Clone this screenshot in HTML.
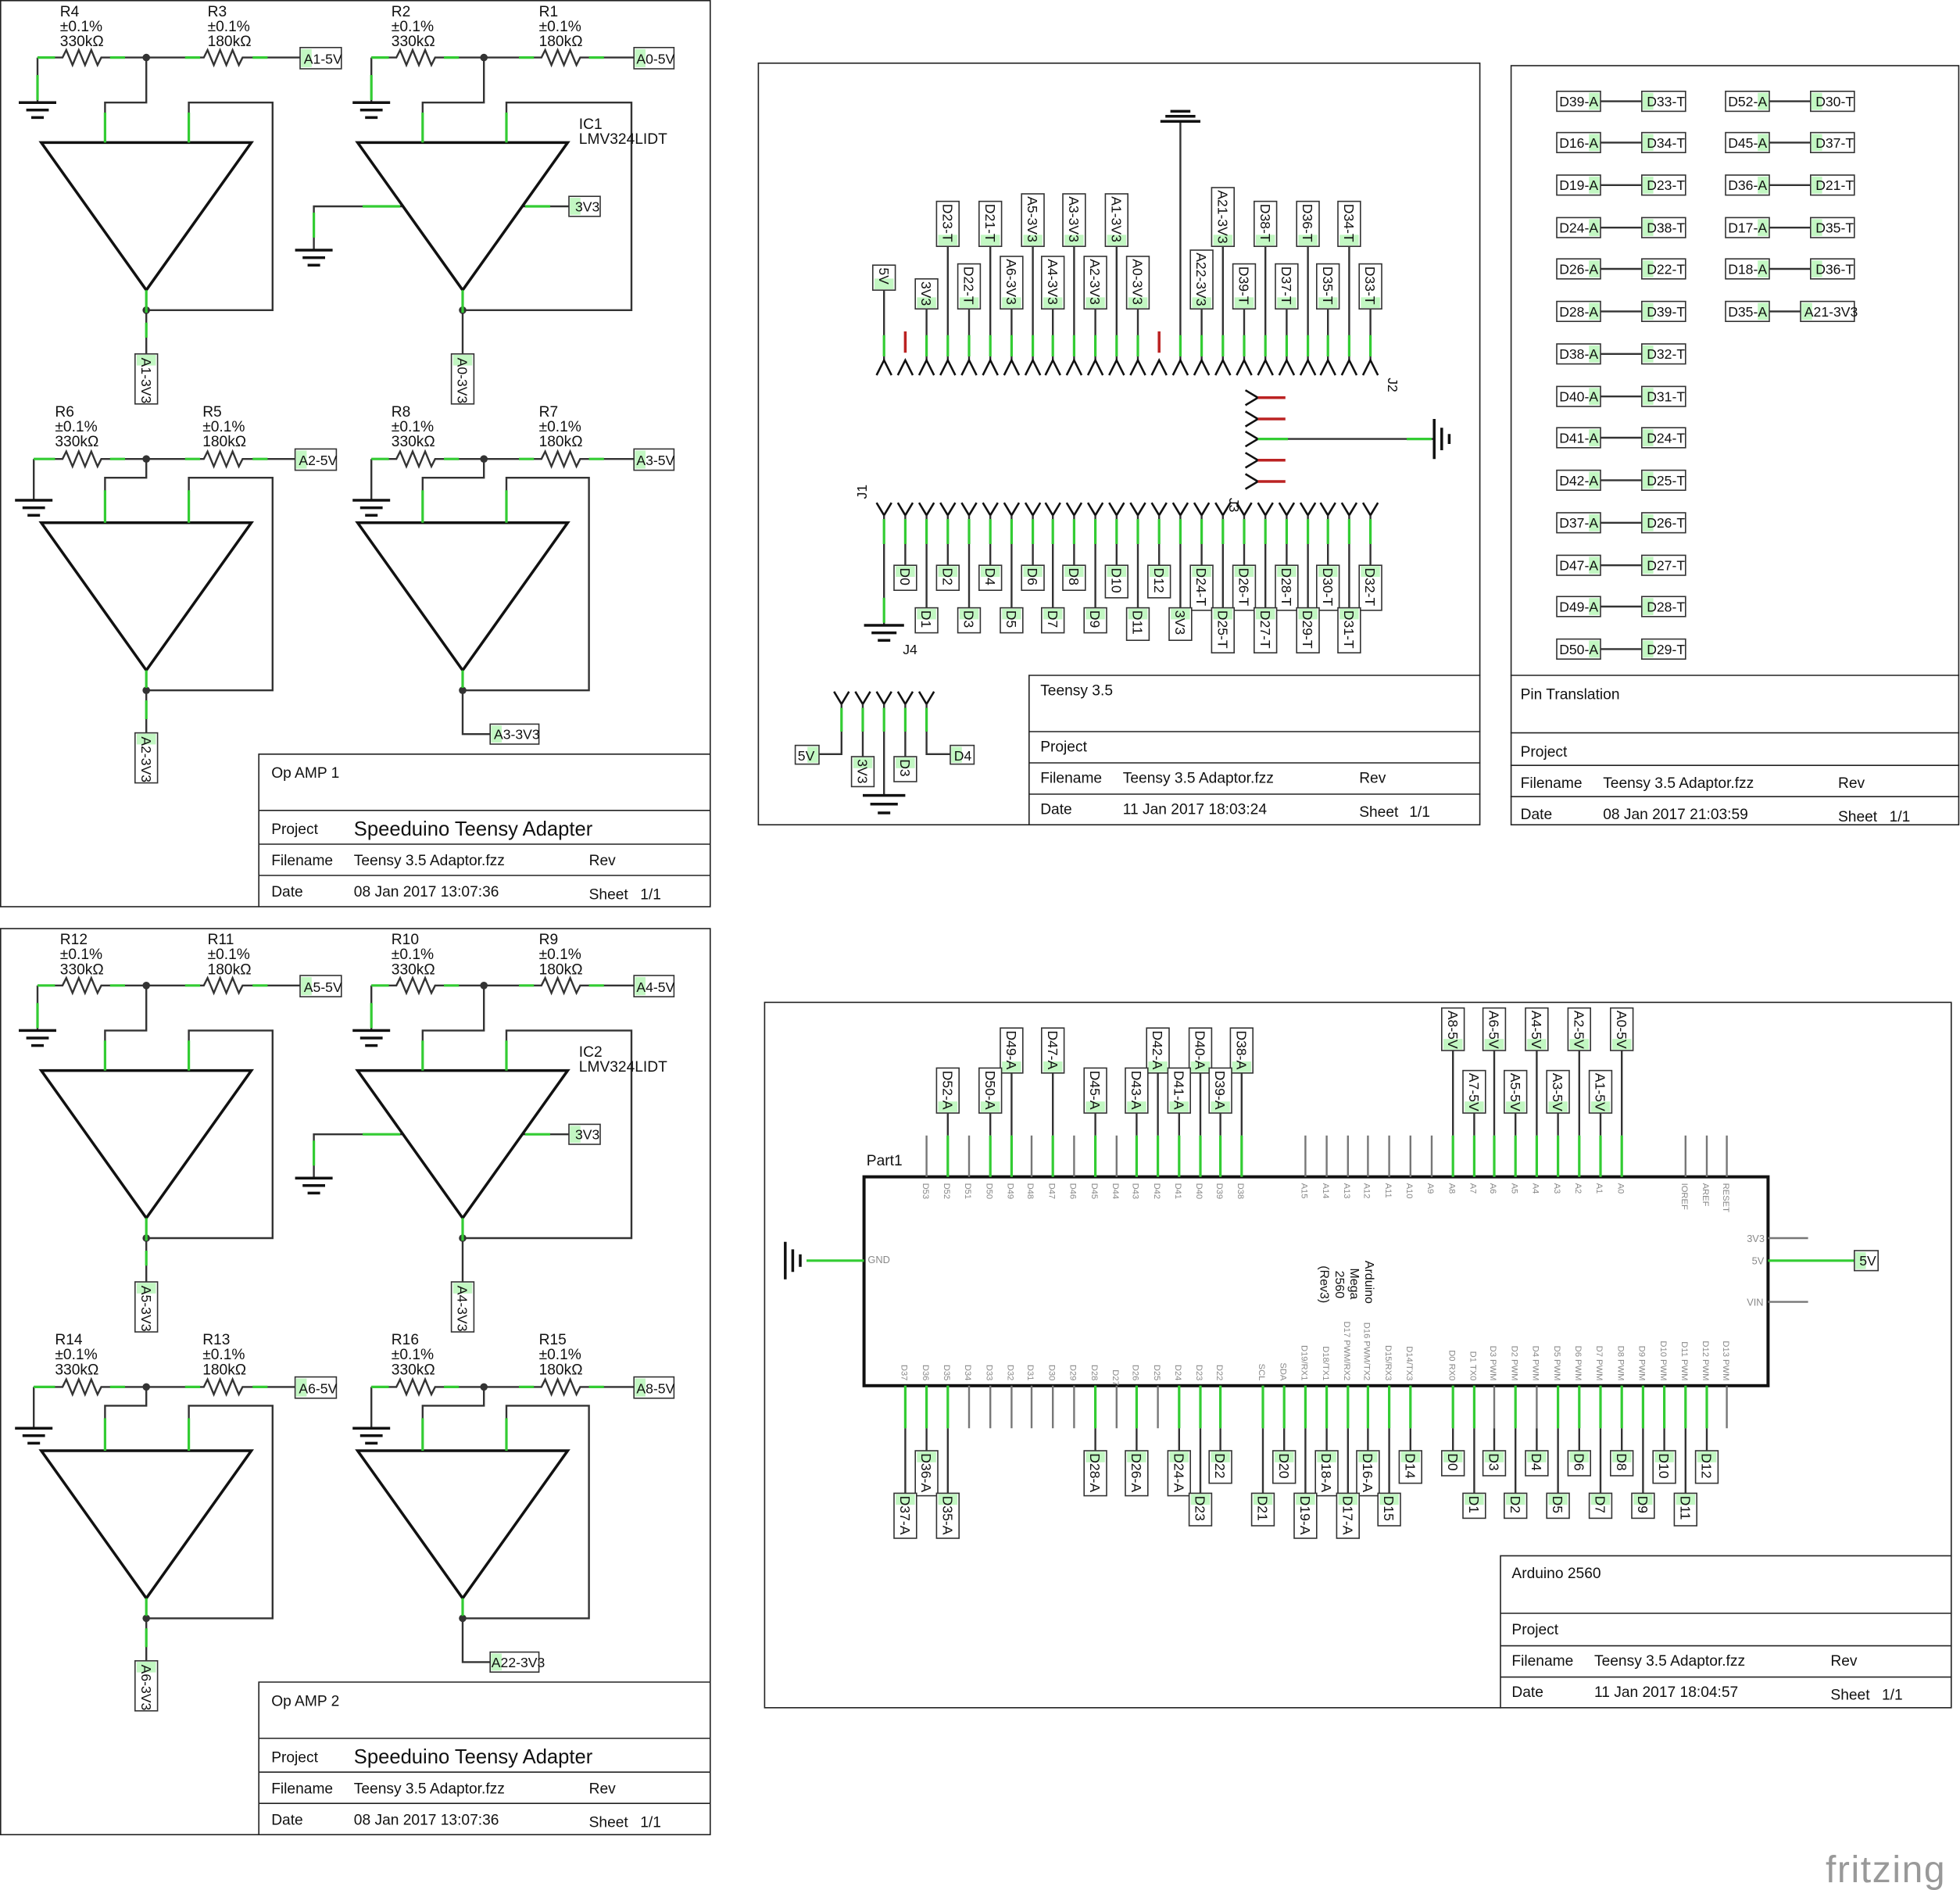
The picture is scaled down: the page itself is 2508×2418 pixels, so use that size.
<!DOCTYPE html>
<html><head><meta charset="utf-8"><style>
html,body{margin:0;padding:0;background:#fff}
svg{display:block}
text{font-family:"Liberation Sans",sans-serif;fill:#111}
.w{fill:none;stroke:#333;stroke-width:1.5}
.k{fill:none;stroke:#111;stroke-width:2.2}
.gr{fill:none;stroke:#3c3;stroke-width:2}
.gy{fill:none;stroke:#777;stroke-width:1.5}
.rd{fill:none;stroke:#b22;stroke-width:2.2}
.sh{fill:none;stroke:#222;stroke-width:1}
.b{fill:#fff;stroke:#333;stroke-width:1}
.h{fill:#7e7;opacity:.45;transform-box:fill-box;transform-origin:center;transform:scale(.85)}
.t{font-size:11px}
.s{font-size:12px}
.p{font-size:7px;fill:#888}
</style></head><body>
<svg width="2508" height="2418" viewBox="0 0 1567.5 1511.25" xmlns="http://www.w3.org/2000/svg">
<defs>
<g id="amp">
 <path class="w" d="M30,46V82M30,46H50l3,-6l5,12l5,-12l5,12l5,-12l5,12l3,-6H163l3,-6l5,12l5,-12l5,12l5,-12l5,12l3,-6H240M117,46V82H84V114M151,114V82H218V248H117M117,232V285"/>
 <path class="k" d="M15,82H45M21,88H39M25,94H35"/>
 <path class="k" d="M33,114H201L117,232Z"/>
 <circle cx="117" cy="46" r="3" fill="#333"/><circle cx="117" cy="248" r="3" fill="#333"/>
 <path class="gr" d="M30,46H44M88,46H100M148,46H160M202,46H214M84,90V114M151,90V114M117,232V250M117,258V270M30,60V80"/>
 <path class="w" d="M297,46V82M297,46H317l3,-6l5,12l5,-12l5,12l5,-12l5,12l3,-6H433l3,-6l5,12l5,-12l5,12l5,-12l5,12l3,-6H507M387,46V82H338V114M405,114V82H505V248H370M370,232V285M251,200V165H322M418,165H455"/>
 <path class="k" d="M282,82H312M288,88H306M292,94H302M236,200H266M242,206H260M246,212H256"/>
 <path class="k" d="M286,114H454L370,232Z"/>
 <circle cx="387" cy="46" r="3" fill="#333"/><circle cx="370" cy="248" r="3" fill="#333"/>
 <path class="gr" d="M297,46H311M355,46H367M415,46H427M471,46H483M338,90V114M405,90V114M370,232V250M297,60V80M251,170V190M290,165H320M420,165H440"/>
 <path class="w" d="M27,367V400M27,367H50l3,-6l5,12l5,-12l5,12l5,-12l5,12l3,-6H163l3,-6l5,12l5,-12l5,12l5,-12l5,12l3,-6H236M117,367V382H84V418M151,418V382H218V552H117M117,536V588"/>
 <path class="k" d="M12,400H42M18,406H36M22,412H32"/>
 <path class="k" d="M33,418H201L117,536Z"/>
 <circle cx="117" cy="367" r="3" fill="#333"/><circle cx="117" cy="552" r="3" fill="#333"/>
 <path class="gr" d="M27,367H44M88,367H100M148,367H160M202,367H214M84,392V418M151,392V418M117,536V550M117,560V575"/>
 <path class="w" d="M297,367V400M297,367H317l3,-6l5,12l5,-12l5,12l5,-12l5,12l3,-6H433l3,-6l5,12l5,-12l5,12l5,-12l5,12l3,-6H507M387,367V382H338V418M405,418V382H471V552H370M370,536V587H392"/>
 <path class="k" d="M282,400H312M288,406H306M292,412H302"/>
 <path class="k" d="M286,418H454L370,536Z"/>
 <circle cx="387" cy="367" r="3" fill="#333"/><circle cx="370" cy="552" r="3" fill="#333"/>
 <path class="gr" d="M297,367H311M355,367H367M415,367H427M471,367H483M338,392V418M405,392V418M370,536V550"/>
 <rect class="sh" x="0.5" y="0.5" width="567.5" height="724.5"/>
 <path class="sh" d="M207,725V603H568M207,648H568M207,675H568M207,700H568"/>
 <rect class="b" x="240" y="38" width="33" height="17"/><rect class="h" x="240" y="38" width="10" height="17"/>
 <rect class="b" x="507" y="38" width="32" height="17"/><rect class="h" x="507" y="38" width="10" height="17"/>
 <rect class="b" x="455" y="157" width="25" height="16"/><rect class="h" x="455" y="157" width="10" height="16"/>
 <rect class="b" x="236" y="359" width="33" height="17"/><rect class="h" x="236" y="359" width="10" height="17"/>
 <rect class="b" x="507" y="359" width="32" height="17"/><rect class="h" x="507" y="359" width="10" height="17"/>
 <rect class="b" x="108" y="283" width="18" height="40"/><rect class="h" x="108" y="283" width="18" height="10"/>
 <rect class="b" x="361" y="283" width="18" height="40"/><rect class="h" x="361" y="283" width="18" height="10"/>
 <rect class="b" x="108" y="586" width="18" height="40"/><rect class="h" x="108" y="586" width="18" height="10"/>
 <rect class="b" x="392" y="579" width="39" height="16"/><rect class="h" x="392" y="579" width="10" height="16"/>
</g>
</defs>

<use href="#amp"/>
<g>
<text class="s" x="48" y="13">R4</text><text class="s" x="48" y="25">±0.1%</text><text class="s" x="48" y="37">330kΩ</text>
<text class="s" x="166" y="13">R3</text><text class="s" x="166" y="25">±0.1%</text><text class="s" x="166" y="37">180kΩ</text>
<text class="s" x="313" y="13">R2</text><text class="s" x="313" y="25">±0.1%</text><text class="s" x="313" y="37">330kΩ</text>
<text class="s" x="431" y="13">R1</text><text class="s" x="431" y="25">±0.1%</text><text class="s" x="431" y="37">180kΩ</text>
<text class="s" x="463" y="103">IC1</text><text class="s" x="463" y="115">LMV324LIDT</text>
<text class="s" x="44" y="333">R6</text><text class="s" x="44" y="345">±0.1%</text><text class="s" x="44" y="357">330kΩ</text>
<text class="s" x="162" y="333">R5</text><text class="s" x="162" y="345">±0.1%</text><text class="s" x="162" y="357">180kΩ</text>
<text class="s" x="313" y="333">R8</text><text class="s" x="313" y="345">±0.1%</text><text class="s" x="313" y="357">330kΩ</text>
<text class="s" x="431" y="333">R7</text><text class="s" x="431" y="345">±0.1%</text><text class="s" x="431" y="357">180kΩ</text>
<text class="t" x="243" y="51">A1-5V</text><text class="t" x="509" y="51">A0-5V</text><text class="t" x="460" y="169">3V3</text>
<text class="t" x="239" y="372">A2-5V</text><text class="t" x="509" y="372">A3-5V</text><text class="t" x="395" y="591">A3-3V3</text>
<text class="t" transform="translate(113,286) rotate(90)">A1-3V3</text>
<text class="t" transform="translate(366,286) rotate(90)">A0-3V3</text>
<text class="t" transform="translate(113,589) rotate(90)">A2-3V3</text>
<text class="s" x="217" y="622">Op AMP 1</text>
<text class="s" x="217" y="667" fill="#555">Project</text><text x="283" y="668" style="font-size:16px">Speeduino Teensy Adapter</text>
<text class="s" x="217" y="692" fill="#555">Filename</text><text class="s" x="283" y="692">Teensy 3.5 Adaptor.fzz</text><text class="s" x="471" y="692" fill="#555">Rev</text>
<text class="s" x="217" y="717" fill="#555">Date</text><text class="s" x="283" y="717">08 Jan 2017 13:07:36</text><text class="s" x="471" y="719" fill="#555">Sheet</text><text class="s" x="512" y="719">1/1</text>
</g>

<g transform="translate(0,742)">
<use href="#amp"/>
<text class="s" x="48" y="13">R12</text><text class="s" x="48" y="25">±0.1%</text><text class="s" x="48" y="37">330kΩ</text>
<text class="s" x="166" y="13">R11</text><text class="s" x="166" y="25">±0.1%</text><text class="s" x="166" y="37">180kΩ</text>
<text class="s" x="313" y="13">R10</text><text class="s" x="313" y="25">±0.1%</text><text class="s" x="313" y="37">330kΩ</text>
<text class="s" x="431" y="13">R9</text><text class="s" x="431" y="25">±0.1%</text><text class="s" x="431" y="37">180kΩ</text>
<text class="s" x="463" y="103">IC2</text><text class="s" x="463" y="115">LMV324LIDT</text>
<text class="s" x="44" y="333">R14</text><text class="s" x="44" y="345">±0.1%</text><text class="s" x="44" y="357">330kΩ</text>
<text class="s" x="162" y="333">R13</text><text class="s" x="162" y="345">±0.1%</text><text class="s" x="162" y="357">180kΩ</text>
<text class="s" x="313" y="333">R16</text><text class="s" x="313" y="345">±0.1%</text><text class="s" x="313" y="357">330kΩ</text>
<text class="s" x="431" y="333">R15</text><text class="s" x="431" y="345">±0.1%</text><text class="s" x="431" y="357">180kΩ</text>
<text class="t" x="243" y="51">A5-5V</text><text class="t" x="509" y="51">A4-5V</text><text class="t" x="460" y="169">3V3</text>
<text class="t" x="239" y="372">A6-5V</text><text class="t" x="509" y="372">A8-5V</text><text class="t" x="393" y="591">A22-3V3</text>
<text class="t" transform="translate(113,286) rotate(90)">A5-3V3</text>
<text class="t" transform="translate(366,286) rotate(90)">A4-3V3</text>
<text class="t" transform="translate(113,589) rotate(90)">A6-3V3</text>
<text class="s" x="217" y="622">Op AMP 2</text>
<text class="s" x="217" y="667" fill="#555">Project</text><text x="283" y="668" style="font-size:16px">Speeduino Teensy Adapter</text>
<text class="s" x="217" y="692" fill="#555">Filename</text><text class="s" x="283" y="692">Teensy 3.5 Adaptor.fzz</text><text class="s" x="471" y="692" fill="#555">Rev</text>
<text class="s" x="217" y="717" fill="#555">Date</text><text class="s" x="283" y="717">08 Jan 2017 13:07:36</text><text class="s" x="471" y="719" fill="#555">Sheet</text><text class="s" x="512" y="719">1/1</text>
</g>

<rect class="sh" x="606.5" y="50.5" width="577" height="609"/>
<path class="sh" d="M823,660V540H1184M823,585H1184M823,610H1184M823,635H1184"/>
<text class="s" x="832" y="556">Teensy 3.5</text>
<text class="s" x="832" y="601" fill="#555">Project</text>
<text class="s" x="832" y="626" fill="#555">Filename</text><text class="s" x="898" y="626">Teensy 3.5 Adaptor.fzz</text><text class="s" x="1087" y="626" fill="#555">Rev</text>
<text class="s" x="832" y="651" fill="#555">Date</text><text class="s" x="898" y="651">11 Jan 2017 18:03:24</text><text class="s" x="1087" y="653" fill="#555">Sheet</text><text class="s" x="1127" y="653">1/1</text>

<path class="w" d="M707,232V288M741,247V288M758,197V288M775,247V288M792,197V288M809,247V288M826,197V288M842,247V288M859,197V288M876,247V288M893,197V288M910,247V288M944,97V288M961,247V288M978,197V288M995,247V288M1012,197V288M1029,247V288M1046,197V288M1062,247V288M1079,197V288M1096,247V288"/>
<path class="gr" d="M707,268V285M741,268V285M758,268V285M775,268V285M792,268V285M809,268V285M826,268V285M842,268V285M859,268V285M876,268V285M893,268V285M910,268V285M944,268V285M961,268V285M978,268V285M995,268V285M1012,268V285M1029,268V285M1046,268V285M1062,268V285M1079,268V285M1096,268V285"/>
<path class="rd" d="M724,265V282M927,265V282"/>
<path class="k" d="M928,97H960M932,93H956M936,89H952"/>
<path class="k" style="stroke-width:1.6" d="M701,300L707,288L713,300M718,300L724,288L730,300M735,300L741,288L747,300M752,300L758,288L764,300M769,300L775,288L781,300M786,300L792,288L798,300M803,300L809,288L815,300M820,300L826,288L832,300M836,300L842,288L848,300M853,300L859,288L865,300M870,300L876,288L882,300M887,300L893,288L899,300M904,300L910,288L916,300M921,300L927,288L933,300M938,300L944,288L950,300M955,300L961,288L967,300M972,300L978,288L984,300M989,300L995,288L1001,300M1006,300L1012,288L1018,300M1023,300L1029,288L1035,300M1040,300L1046,288L1052,300M1056,300L1062,288L1068,300M1073,300L1079,288L1085,300M1090,300L1096,288L1102,300"/>
<text class="t" transform="translate(1110,302) rotate(90)">J2</text>
<g>
<rect class="b" x="698" y="212" width="18" height="20"/><rect class="h" x="698" y="222" width="18" height="10"/><text class="t" transform="translate(703,214) rotate(90)">5V</text>
<rect class="b" x="732" y="223" width="18" height="24"/><rect class="h" x="732" y="237" width="18" height="10"/><text class="t" transform="translate(737,225) rotate(90)">3V3</text>
<rect class="b" x="749" y="161" width="18" height="36"/><rect class="h" x="749" y="187" width="18" height="10"/><text class="t" transform="translate(754,163) rotate(90)">D23-T</text>
<rect class="b" x="766" y="211" width="18" height="36"/><rect class="h" x="766" y="237" width="18" height="10"/><text class="t" transform="translate(771,213) rotate(90)">D22-T</text>
<rect class="b" x="783" y="161" width="18" height="36"/><rect class="h" x="783" y="187" width="18" height="10"/><text class="t" transform="translate(788,163) rotate(90)">D21-T</text>
<rect class="b" x="800" y="205" width="18" height="42"/><rect class="h" x="800" y="237" width="18" height="10"/><text class="t" transform="translate(805,207) rotate(90)">A6-3V3</text>
<rect class="b" x="817" y="155" width="18" height="42"/><rect class="h" x="817" y="187" width="18" height="10"/><text class="t" transform="translate(822,157) rotate(90)">A5-3V3</text>
<rect class="b" x="833" y="205" width="18" height="42"/><rect class="h" x="833" y="237" width="18" height="10"/><text class="t" transform="translate(838,207) rotate(90)">A4-3V3</text>
<rect class="b" x="850" y="155" width="18" height="42"/><rect class="h" x="850" y="187" width="18" height="10"/><text class="t" transform="translate(855,157) rotate(90)">A3-3V3</text>
<rect class="b" x="867" y="205" width="18" height="42"/><rect class="h" x="867" y="237" width="18" height="10"/><text class="t" transform="translate(872,207) rotate(90)">A2-3V3</text>
<rect class="b" x="884" y="155" width="18" height="42"/><rect class="h" x="884" y="187" width="18" height="10"/><text class="t" transform="translate(889,157) rotate(90)">A1-3V3</text>
<rect class="b" x="901" y="205" width="18" height="42"/><rect class="h" x="901" y="237" width="18" height="10"/><text class="t" transform="translate(906,207) rotate(90)">A0-3V3</text>
<rect class="b" x="952" y="200" width="18" height="47"/><rect class="h" x="952" y="237" width="18" height="10"/><text class="t" transform="translate(957,202) rotate(90)">A22-3V3</text>
<rect class="b" x="969" y="150" width="18" height="47"/><rect class="h" x="969" y="187" width="18" height="10"/><text class="t" transform="translate(974,152) rotate(90)">A21-3V3</text>
<rect class="b" x="986" y="211" width="18" height="36"/><rect class="h" x="986" y="237" width="18" height="10"/><text class="t" transform="translate(991,213) rotate(90)">D39-T</text>
<rect class="b" x="1003" y="161" width="18" height="36"/><rect class="h" x="1003" y="187" width="18" height="10"/><text class="t" transform="translate(1008,163) rotate(90)">D38-T</text>
<rect class="b" x="1020" y="211" width="18" height="36"/><rect class="h" x="1020" y="237" width="18" height="10"/><text class="t" transform="translate(1025,213) rotate(90)">D37-T</text>
<rect class="b" x="1037" y="161" width="18" height="36"/><rect class="h" x="1037" y="187" width="18" height="10"/><text class="t" transform="translate(1042,163) rotate(90)">D36-T</text>
<rect class="b" x="1053" y="211" width="18" height="36"/><rect class="h" x="1053" y="237" width="18" height="10"/><text class="t" transform="translate(1058,213) rotate(90)">D35-T</text>
<rect class="b" x="1070" y="161" width="18" height="36"/><rect class="h" x="1070" y="187" width="18" height="10"/><text class="t" transform="translate(1075,163) rotate(90)">D34-T</text>
<rect class="b" x="1087" y="211" width="18" height="36"/><rect class="h" x="1087" y="237" width="18" height="10"/><text class="t" transform="translate(1092,213) rotate(90)">D33-T</text>
</g>
<path class="k" style="stroke-width:1.6" d="M996,312L1006,318L996,324M996,329L1006,335L996,341M996,345L1006,351L996,357M996,362L1006,368L996,374M996,379L1006,385L996,391"/>
<path class="rd" d="M1006,318H1028M1006,335H1028M1006,368H1028M1006,385H1028"/>
<path class="w" d="M1006,351H1147"/><path class="gr" d="M1006,351H1030M1125,351H1145"/>
<path class="k" d="M1147,335V367M1153,342V360M1159,347V355"/>
<text class="t" transform="translate(983,398) rotate(90)">J3</text>
<path class="k" style="stroke-width:1.6" d="M701,402L707,412L713,402M718,402L724,412L730,402M735,402L741,412L747,402M752,402L758,412L764,402M769,402L775,412L781,402M786,402L792,412L798,402M803,402L809,412L815,402M820,402L826,412L832,402M836,402L842,412L848,402M853,402L859,412L865,402M870,402L876,412L882,402M887,402L893,412L899,402M904,402L910,412L916,402M921,402L927,412L933,402M938,402L944,412L950,402M955,402L961,412L967,402M972,402L978,412L984,402M989,402L995,412L1001,402M1006,402L1012,412L1018,402M1023,402L1029,412L1035,402M1040,402L1046,412L1052,402M1056,402L1062,412L1068,402M1073,402L1079,412L1085,402M1090,402L1096,412L1102,402"/>
<path class="w" d="M707,412V500M724,412V452M741,412V486M758,412V452M775,412V486M792,412V452M809,412V486M826,412V452M842,412V486M859,412V452M876,412V486M893,412V452M910,412V486M927,412V452M944,412V486M961,412V452M978,412V486M995,412V452M1012,412V486M1029,412V452M1046,412V486M1062,412V452M1079,412V486M1096,412V452"/>
<path class="gr" d="M707,415V435M724,415V435M741,415V435M758,415V435M775,415V435M792,415V435M809,415V435M826,415V435M842,415V435M859,415V435M876,415V435M893,415V435M910,415V435M927,415V435M944,415V435M961,415V435M978,415V435M995,415V435M1012,415V435M1029,415V435M1046,415V435M1062,415V435M1079,415V435M1096,415V435M707,478V498"/>
<path class="k" d="M691,500H723M697,506H717M702,512H712"/>
<text class="t" transform="translate(693,399) rotate(-90)">J1</text>
<text class="t" x="722" y="523">J4</text>
<g>
<rect class="b" x="715" y="452" width="18" height="20"/><rect class="h" x="715" y="452" width="18" height="10"/><text class="t" transform="translate(720,454) rotate(90)">D0</text>
<rect class="b" x="749" y="452" width="18" height="20"/><rect class="h" x="749" y="452" width="18" height="10"/><text class="t" transform="translate(754,454) rotate(90)">D2</text>
<rect class="b" x="783" y="452" width="18" height="20"/><rect class="h" x="783" y="452" width="18" height="10"/><text class="t" transform="translate(788,454) rotate(90)">D4</text>
<rect class="b" x="817" y="452" width="18" height="20"/><rect class="h" x="817" y="452" width="18" height="10"/><text class="t" transform="translate(822,454) rotate(90)">D6</text>
<rect class="b" x="850" y="452" width="18" height="20"/><rect class="h" x="850" y="452" width="18" height="10"/><text class="t" transform="translate(855,454) rotate(90)">D8</text>
<rect class="b" x="884" y="452" width="18" height="26"/><rect class="h" x="884" y="452" width="18" height="10"/><text class="t" transform="translate(889,454) rotate(90)">D10</text>
<rect class="b" x="918" y="452" width="18" height="26"/><rect class="h" x="918" y="452" width="18" height="10"/><text class="t" transform="translate(923,454) rotate(90)">D12</text>
<rect class="b" x="952" y="452" width="18" height="36"/><rect class="h" x="952" y="452" width="18" height="10"/><text class="t" transform="translate(957,454) rotate(90)">D24-T</text>
<rect class="b" x="986" y="452" width="18" height="36"/><rect class="h" x="986" y="452" width="18" height="10"/><text class="t" transform="translate(991,454) rotate(90)">D26-T</text>
<rect class="b" x="1020" y="452" width="18" height="36"/><rect class="h" x="1020" y="452" width="18" height="10"/><text class="t" transform="translate(1025,454) rotate(90)">D28-T</text>
<rect class="b" x="1053" y="452" width="18" height="36"/><rect class="h" x="1053" y="452" width="18" height="10"/><text class="t" transform="translate(1058,454) rotate(90)">D30-T</text>
<rect class="b" x="1087" y="452" width="18" height="36"/><rect class="h" x="1087" y="452" width="18" height="10"/><text class="t" transform="translate(1092,454) rotate(90)">D32-T</text>
<rect class="b" x="732" y="486" width="18" height="20"/><rect class="h" x="732" y="486" width="18" height="10"/><text class="t" transform="translate(737,488) rotate(90)">D1</text>
<rect class="b" x="766" y="486" width="18" height="20"/><rect class="h" x="766" y="486" width="18" height="10"/><text class="t" transform="translate(771,488) rotate(90)">D3</text>
<rect class="b" x="800" y="486" width="18" height="20"/><rect class="h" x="800" y="486" width="18" height="10"/><text class="t" transform="translate(805,488) rotate(90)">D5</text>
<rect class="b" x="833" y="486" width="18" height="20"/><rect class="h" x="833" y="486" width="18" height="10"/><text class="t" transform="translate(838,488) rotate(90)">D7</text>
<rect class="b" x="867" y="486" width="18" height="20"/><rect class="h" x="867" y="486" width="18" height="10"/><text class="t" transform="translate(872,488) rotate(90)">D9</text>
<rect class="b" x="901" y="486" width="18" height="26"/><rect class="h" x="901" y="486" width="18" height="10"/><text class="t" transform="translate(906,488) rotate(90)">D11</text>
<rect class="b" x="935" y="486" width="18" height="26"/><rect class="h" x="935" y="486" width="18" height="10"/><text class="t" transform="translate(940,488) rotate(90)">3V3</text>
<rect class="b" x="969" y="486" width="18" height="36"/><rect class="h" x="969" y="486" width="18" height="10"/><text class="t" transform="translate(974,488) rotate(90)">D25-T</text>
<rect class="b" x="1003" y="486" width="18" height="36"/><rect class="h" x="1003" y="486" width="18" height="10"/><text class="t" transform="translate(1008,488) rotate(90)">D27-T</text>
<rect class="b" x="1037" y="486" width="18" height="36"/><rect class="h" x="1037" y="486" width="18" height="10"/><text class="t" transform="translate(1042,488) rotate(90)">D29-T</text>
<rect class="b" x="1070" y="486" width="18" height="36"/><rect class="h" x="1070" y="486" width="18" height="10"/><text class="t" transform="translate(1075,488) rotate(90)">D31-T</text>
</g>
<path class="k" style="stroke-width:1.6" d="M667,553L673,563L679,553M684,553L690,563L696,553M701,553L707,563L713,553M718,553L724,563L730,553M735,553L741,563L747,553"/>
<path class="w" d="M673,563V603H655M690,563V605M707,563V636M724,563V605M741,563V603H760"/>
<path class="gr" d="M673,566V585M690,566V585M707,566V585M724,566V585M741,566V585"/>
<path class="k" d="M690,636H724M696,643H718M702,650H712"/>
<rect class="b" x="636" y="596" width="19" height="15"/><rect class="h" x="645" y="596" width="10" height="15"/><text class="t" x="638" y="608">5V</text>
<rect class="b" x="760" y="596" width="19" height="15"/><rect class="h" x="760" y="596" width="10" height="15"/><text class="t" x="763" y="608">D4</text>
<rect class="b" x="681" y="605" width="18" height="24"/><rect class="h" x="681" y="605" width="18" height="10"/><text class="t" transform="translate(686,607) rotate(90)">3V3</text>
<rect class="b" x="715" y="605" width="18" height="20"/><rect class="h" x="715" y="605" width="18" height="10"/><text class="t" transform="translate(720,607) rotate(90)">D3</text>

<rect class="sh" x="1208.5" y="52.5" width="358" height="607"/>
<path class="sh" d="M1208,540H1567M1208,586H1567M1208,612H1567M1208,637H1567"/>
<text class="s" x="1216" y="559">Pin Translation</text>
<text class="s" x="1216" y="605" fill="#555">Project</text>
<text class="s" x="1216" y="630" fill="#555">Filename</text><text class="s" x="1282" y="630">Teensy 3.5 Adaptor.fzz</text><text class="s" x="1470" y="630" fill="#555">Rev</text>
<text class="s" x="1216" y="655" fill="#555">Date</text><text class="s" x="1282" y="655">08 Jan 2017 21:03:59</text><text class="s" x="1470" y="657" fill="#555">Sheet</text><text class="s" x="1511" y="657">1/1</text>
<path class="w" d="M1280,81H1313M1280,114H1313M1280,148H1313M1280,182H1313M1280,215H1313M1280,249H1313M1280,283H1313M1280,317H1313M1280,350H1313M1280,384H1313M1280,418H1313M1280,452H1313M1280,485H1313M1280,519H1313M1415,81H1448M1415,114H1448M1415,148H1448M1415,182H1448M1415,215H1448M1415,249H1440"/>
<g class="t">
<rect class="b" x="1245" y="73" width="35" height="16"/><rect class="h" x="1270" y="73" width="10" height="16"/><text class="t" x="1247" y="85">D39-A</text><rect class="b" x="1313" y="73" width="35" height="16"/><rect class="h" x="1313" y="73" width="10" height="16"/><text class="t" x="1317" y="85">D33-T</text>
<rect class="b" x="1245" y="106" width="35" height="16"/><rect class="h" x="1270" y="106" width="10" height="16"/><text class="t" x="1247" y="118">D16-A</text><rect class="b" x="1313" y="106" width="35" height="16"/><rect class="h" x="1313" y="106" width="10" height="16"/><text class="t" x="1317" y="118">D34-T</text>
<rect class="b" x="1245" y="140" width="35" height="16"/><rect class="h" x="1270" y="140" width="10" height="16"/><text class="t" x="1247" y="152">D19-A</text><rect class="b" x="1313" y="140" width="35" height="16"/><rect class="h" x="1313" y="140" width="10" height="16"/><text class="t" x="1317" y="152">D23-T</text>
<rect class="b" x="1245" y="174" width="35" height="16"/><rect class="h" x="1270" y="174" width="10" height="16"/><text class="t" x="1247" y="186">D24-A</text><rect class="b" x="1313" y="174" width="35" height="16"/><rect class="h" x="1313" y="174" width="10" height="16"/><text class="t" x="1317" y="186">D38-T</text>
<rect class="b" x="1245" y="207" width="35" height="16"/><rect class="h" x="1270" y="207" width="10" height="16"/><text class="t" x="1247" y="219">D26-A</text><rect class="b" x="1313" y="207" width="35" height="16"/><rect class="h" x="1313" y="207" width="10" height="16"/><text class="t" x="1317" y="219">D22-T</text>
<rect class="b" x="1245" y="241" width="35" height="16"/><rect class="h" x="1270" y="241" width="10" height="16"/><text class="t" x="1247" y="253">D28-A</text><rect class="b" x="1313" y="241" width="35" height="16"/><rect class="h" x="1313" y="241" width="10" height="16"/><text class="t" x="1317" y="253">D39-T</text>
<rect class="b" x="1245" y="275" width="35" height="16"/><rect class="h" x="1270" y="275" width="10" height="16"/><text class="t" x="1247" y="287">D38-A</text><rect class="b" x="1313" y="275" width="35" height="16"/><rect class="h" x="1313" y="275" width="10" height="16"/><text class="t" x="1317" y="287">D32-T</text>
<rect class="b" x="1245" y="309" width="35" height="16"/><rect class="h" x="1270" y="309" width="10" height="16"/><text class="t" x="1247" y="321">D40-A</text><rect class="b" x="1313" y="309" width="35" height="16"/><rect class="h" x="1313" y="309" width="10" height="16"/><text class="t" x="1317" y="321">D31-T</text>
<rect class="b" x="1245" y="342" width="35" height="16"/><rect class="h" x="1270" y="342" width="10" height="16"/><text class="t" x="1247" y="354">D41-A</text><rect class="b" x="1313" y="342" width="35" height="16"/><rect class="h" x="1313" y="342" width="10" height="16"/><text class="t" x="1317" y="354">D24-T</text>
<rect class="b" x="1245" y="376" width="35" height="16"/><rect class="h" x="1270" y="376" width="10" height="16"/><text class="t" x="1247" y="388">D42-A</text><rect class="b" x="1313" y="376" width="35" height="16"/><rect class="h" x="1313" y="376" width="10" height="16"/><text class="t" x="1317" y="388">D25-T</text>
<rect class="b" x="1245" y="410" width="35" height="16"/><rect class="h" x="1270" y="410" width="10" height="16"/><text class="t" x="1247" y="422">D37-A</text><rect class="b" x="1313" y="410" width="35" height="16"/><rect class="h" x="1313" y="410" width="10" height="16"/><text class="t" x="1317" y="422">D26-T</text>
<rect class="b" x="1245" y="444" width="35" height="16"/><rect class="h" x="1270" y="444" width="10" height="16"/><text class="t" x="1247" y="456">D47-A</text><rect class="b" x="1313" y="444" width="35" height="16"/><rect class="h" x="1313" y="444" width="10" height="16"/><text class="t" x="1317" y="456">D27-T</text>
<rect class="b" x="1245" y="477" width="35" height="16"/><rect class="h" x="1270" y="477" width="10" height="16"/><text class="t" x="1247" y="489">D49-A</text><rect class="b" x="1313" y="477" width="35" height="16"/><rect class="h" x="1313" y="477" width="10" height="16"/><text class="t" x="1317" y="489">D28-T</text>
<rect class="b" x="1245" y="511" width="35" height="16"/><rect class="h" x="1270" y="511" width="10" height="16"/><text class="t" x="1247" y="523">D50-A</text><rect class="b" x="1313" y="511" width="35" height="16"/><rect class="h" x="1313" y="511" width="10" height="16"/><text class="t" x="1317" y="523">D29-T</text>
<rect class="b" x="1380" y="73" width="35" height="16"/><rect class="h" x="1405" y="73" width="10" height="16"/><text class="t" x="1382" y="85">D52-A</text><rect class="b" x="1448" y="73" width="35" height="16"/><rect class="h" x="1448" y="73" width="10" height="16"/><text class="t" x="1452" y="85">D30-T</text>
<rect class="b" x="1380" y="106" width="35" height="16"/><rect class="h" x="1405" y="106" width="10" height="16"/><text class="t" x="1382" y="118">D45-A</text><rect class="b" x="1448" y="106" width="35" height="16"/><rect class="h" x="1448" y="106" width="10" height="16"/><text class="t" x="1452" y="118">D37-T</text>
<rect class="b" x="1380" y="140" width="35" height="16"/><rect class="h" x="1405" y="140" width="10" height="16"/><text class="t" x="1382" y="152">D36-A</text><rect class="b" x="1448" y="140" width="35" height="16"/><rect class="h" x="1448" y="140" width="10" height="16"/><text class="t" x="1452" y="152">D21-T</text>
<rect class="b" x="1380" y="174" width="35" height="16"/><rect class="h" x="1405" y="174" width="10" height="16"/><text class="t" x="1382" y="186">D17-A</text><rect class="b" x="1448" y="174" width="35" height="16"/><rect class="h" x="1448" y="174" width="10" height="16"/><text class="t" x="1452" y="186">D35-T</text>
<rect class="b" x="1380" y="207" width="35" height="16"/><rect class="h" x="1405" y="207" width="10" height="16"/><text class="t" x="1382" y="219">D18-A</text><rect class="b" x="1448" y="207" width="35" height="16"/><rect class="h" x="1448" y="207" width="10" height="16"/><text class="t" x="1452" y="219">D36-T</text>
<rect class="b" x="1380" y="241" width="35" height="16"/><rect class="h" x="1405" y="241" width="10" height="16"/><text class="t" x="1382" y="253">D35-A</text><rect class="b" x="1440" y="241" width="43" height="16"/><rect class="h" x="1440" y="241" width="10" height="16"/><text class="t" x="1443" y="253">A21-3V3</text>
</g>

<rect class="sh" x="611.5" y="801.5" width="949" height="564"/>
<path class="sh" d="M1200,1366V1244H1561M1200,1290H1561M1200,1316H1561M1200,1341H1561"/>
<text class="s" x="1209" y="1262">Arduino 2560</text>
<text class="s" x="1209" y="1307" fill="#555">Project</text>
<text class="s" x="1209" y="1332" fill="#555">Filename</text><text class="s" x="1275" y="1332">Teensy 3.5 Adaptor.fzz</text><text class="s" x="1464" y="1332" fill="#555">Rev</text>
<text class="s" x="1209" y="1357" fill="#555">Date</text><text class="s" x="1275" y="1357">11 Jan 2017 18:04:57</text><text class="s" x="1464" y="1359" fill="#555">Sheet</text><text class="s" x="1505" y="1359">1/1</text>

<text class="s" x="693" y="932">Part1</text>
<rect x="691" y="941" width="723" height="167" fill="none" stroke="#111" stroke-width="2.5"/>
<path class="gy" d="M741,908V941M758,908V941M775,908V941M792,908V941M809,908V941M825,908V941M842,908V941M859,908V941M876,908V941M893,908V941M909,908V941M926,908V941M943,908V941M960,908V941M976,908V941M993,908V941M1044,908V941M1061,908V941M1078,908V941M1094,908V941M1111,908V941M1128,908V941M1145,908V941M1162,908V941M1179,908V941M1195,908V941M1212,908V941M1229,908V941M1246,908V941M1263,908V941M1280,908V941M1297,908V941M1348,908V941M1365,908V941M1381,908V941"/>
<path class="w" d="M758,890V908M792,890V908M809,858V908M842,858V908M876,890V908M909,890V908M926,858V908M943,890V908M960,858V908M976,890V908M993,858V908M1162,840V908M1179,890V908M1195,840V908M1212,890V908M1229,840V908M1246,890V908M1263,840V908M1280,890V908M1297,840V908"/>
<path class="gr" d="M758,908V941M792,908V941M809,908V941M842,908V941M876,908V941M909,908V941M926,908V941M943,908V941M960,908V941M976,908V941M993,908V941M1162,908V941M1179,908V941M1195,908V941M1212,908V941M1229,908V941M1246,908V941M1263,908V941M1280,908V941M1297,908V941"/>
<path class="gy" d="M724,1108V1142M741,1108V1142M758,1108V1142M775,1108V1142M792,1108V1142M809,1108V1142M825,1108V1142M842,1108V1142M859,1108V1142M876,1108V1142M893,1108V1142M909,1108V1142M926,1108V1142M943,1108V1142M960,1108V1142M976,1108V1142M1010,1108V1142M1027,1108V1142M1044,1108V1142M1061,1108V1142M1078,1108V1142M1094,1108V1142M1111,1108V1142M1128,1108V1142M1162,1108V1142M1179,1108V1142M1195,1108V1142M1212,1108V1142M1229,1108V1142M1246,1108V1142M1263,1108V1142M1280,1108V1142M1297,1108V1142M1314,1108V1142M1331,1108V1142M1348,1108V1142M1365,1108V1142M1381,1108V1142"/>
<path class="w" d="M724,1142V1195M741,1142V1160M758,1142V1195M876,1142V1160M909,1142V1160M943,1142V1160M960,1142V1195M976,1142V1160M1010,1142V1195M1027,1142V1160M1044,1142V1195M1061,1142V1160M1078,1142V1195M1094,1142V1160M1111,1142V1195M1128,1142V1160M1162,1142V1160M1179,1142V1195M1195,1142V1160M1212,1142V1195M1229,1142V1160M1246,1142V1195M1263,1142V1160M1280,1142V1195M1297,1142V1160M1314,1142V1195M1331,1142V1160M1348,1142V1195M1365,1142V1160"/>
<path class="gr" d="M724,1108V1142M741,1108V1142M758,1108V1142M876,1108V1142M909,1108V1142M943,1108V1142M960,1108V1142M976,1108V1142M1010,1108V1142M1027,1108V1142M1044,1108V1142M1061,1108V1142M1078,1108V1142M1094,1108V1142M1111,1108V1142M1128,1108V1142M1162,1108V1142M1179,1108V1142M1212,1108V1142M1246,1108V1142M1263,1108V1142M1280,1108V1142M1297,1108V1142M1314,1108V1142M1331,1108V1142M1348,1108V1142M1365,1108V1142"/>
<path class="gr" d="M645,1008H691M1414,1008H1483"/>
<path class="gy" d="M1414,990H1446M1414,1041H1446"/>
<path class="k" d="M628,993V1023M634,999V1017M640,1003V1013"/>
<text class="p" x="694" y="1010" style="font-size:8px">GND</text>
<text class="p" x="1397" y="993" style="font-size:8px">3V3</text>
<text class="p" x="1401" y="1011" style="font-size:8px">5V</text>
<text class="p" x="1397" y="1044" style="font-size:8px">VIN</text>
<rect class="b" x="1483" y="1000" width="19" height="16"/><rect class="h" x="1483" y="1000" width="10" height="16"/><text class="t" x="1487" y="1012">5V</text>
<g style="font-size:10px">
<text transform="translate(1092,1008) rotate(90)" style="font-size:10px">Arduino</text>
<text transform="translate(1080,1014) rotate(90)" style="font-size:10px">Mega</text>
<text transform="translate(1068,1016) rotate(90)" style="font-size:10px">2560</text>
<text transform="translate(1056,1012) rotate(90)" style="font-size:10px">(Rev3)</text>
</g>
<g class="p">
<text class="p" transform="translate(738,946) rotate(90)">D53</text><text class="p" transform="translate(755,946) rotate(90)">D52</text><text class="p" transform="translate(772,946) rotate(90)">D51</text><text class="p" transform="translate(789,946) rotate(90)">D50</text><text class="p" transform="translate(806,946) rotate(90)">D49</text><text class="p" transform="translate(822,946) rotate(90)">D48</text><text class="p" transform="translate(839,946) rotate(90)">D47</text><text class="p" transform="translate(856,946) rotate(90)">D46</text><text class="p" transform="translate(873,946) rotate(90)">D45</text><text class="p" transform="translate(890,946) rotate(90)">D44</text><text class="p" transform="translate(906,946) rotate(90)">D43</text><text class="p" transform="translate(923,946) rotate(90)">D42</text><text class="p" transform="translate(940,946) rotate(90)">D41</text><text class="p" transform="translate(957,946) rotate(90)">D40</text><text class="p" transform="translate(973,946) rotate(90)">D39</text><text class="p" transform="translate(990,946) rotate(90)">D38</text>
<text class="p" transform="translate(1041,946) rotate(90)">A15</text><text class="p" transform="translate(1058,946) rotate(90)">A14</text><text class="p" transform="translate(1075,946) rotate(90)">A13</text><text class="p" transform="translate(1091,946) rotate(90)">A12</text><text class="p" transform="translate(1108,946) rotate(90)">A11</text><text class="p" transform="translate(1125,946) rotate(90)">A10</text><text class="p" transform="translate(1142,946) rotate(90)">A9</text><text class="p" transform="translate(1159,946) rotate(90)">A8</text><text class="p" transform="translate(1176,946) rotate(90)">A7</text><text class="p" transform="translate(1192,946) rotate(90)">A6</text><text class="p" transform="translate(1209,946) rotate(90)">A5</text><text class="p" transform="translate(1226,946) rotate(90)">A4</text><text class="p" transform="translate(1243,946) rotate(90)">A3</text><text class="p" transform="translate(1260,946) rotate(90)">A2</text><text class="p" transform="translate(1277,946) rotate(90)">A1</text><text class="p" transform="translate(1294,946) rotate(90)">A0</text>
<text class="p" transform="translate(1345,946) rotate(90)">IOREF</text><text class="p" transform="translate(1362,946) rotate(90)">AREF</text><text class="p" transform="translate(1378,946) rotate(90)">RESET</text>
</g>
<g>
<text class="p" text-anchor="end" transform="translate(721,1104) rotate(90)">D37</text><text class="p" text-anchor="end" transform="translate(738,1104) rotate(90)">D36</text><text class="p" text-anchor="end" transform="translate(755,1104) rotate(90)">D35</text><text class="p" text-anchor="end" transform="translate(772,1104) rotate(90)">D34</text><text class="p" text-anchor="end" transform="translate(789,1104) rotate(90)">D33</text><text class="p" text-anchor="end" transform="translate(806,1104) rotate(90)">D32</text><text class="p" text-anchor="end" transform="translate(822,1104) rotate(90)">D31</text><text class="p" text-anchor="end" transform="translate(839,1104) rotate(90)">D30</text><text class="p" text-anchor="end" transform="translate(856,1104) rotate(90)">D29</text><text class="p" text-anchor="end" transform="translate(873,1104) rotate(90)">D28</text><text class="p" text-anchor="end" transform="translate(890,1108) rotate(90)">D27</text><text class="p" text-anchor="end" transform="translate(906,1104) rotate(90)">D26</text><text class="p" text-anchor="end" transform="translate(923,1104) rotate(90)">D25</text><text class="p" text-anchor="end" transform="translate(940,1104) rotate(90)">D24</text><text class="p" text-anchor="end" transform="translate(957,1104) rotate(90)">D23</text><text class="p" text-anchor="end" transform="translate(973,1104) rotate(90)">D22</text>
<text class="p" text-anchor="end" transform="translate(1007,1104) rotate(90)">SCL</text><text class="p" text-anchor="end" transform="translate(1024,1104) rotate(90)">SDA</text><text class="p" text-anchor="end" transform="translate(1041,1104) rotate(90)">D19/RX1</text><text class="p" text-anchor="end" transform="translate(1058,1104) rotate(90)">D18/TX1</text><text class="p" text-anchor="end" transform="translate(1075,1104) rotate(90)">D17 PWM/RX2</text><text class="p" text-anchor="end" transform="translate(1091,1104) rotate(90)">D16 PWM/TX2</text><text class="p" text-anchor="end" transform="translate(1108,1104) rotate(90)">D15/RX3</text><text class="p" text-anchor="end" transform="translate(1125,1104) rotate(90)">D14/TX3</text>
<text class="p" text-anchor="end" transform="translate(1159,1104) rotate(90)">D0 RX0</text><text class="p" text-anchor="end" transform="translate(1176,1104) rotate(90)">D1 TX0</text><text class="p" text-anchor="end" transform="translate(1192,1104) rotate(90)">D3 PWM</text><text class="p" text-anchor="end" transform="translate(1209,1104) rotate(90)">D2 PWM</text><text class="p" text-anchor="end" transform="translate(1226,1104) rotate(90)">D4 PWM</text><text class="p" text-anchor="end" transform="translate(1243,1104) rotate(90)">D5 PWM</text><text class="p" text-anchor="end" transform="translate(1260,1104) rotate(90)">D6 PWM</text><text class="p" text-anchor="end" transform="translate(1277,1104) rotate(90)">D7 PWM</text><text class="p" text-anchor="end" transform="translate(1294,1104) rotate(90)">D8 PWM</text><text class="p" text-anchor="end" transform="translate(1311,1104) rotate(90)">D9 PWM</text><text class="p" text-anchor="end" transform="translate(1328,1104) rotate(90)">D10 PWM</text><text class="p" text-anchor="end" transform="translate(1345,1104) rotate(90)">D11 PWM</text><text class="p" text-anchor="end" transform="translate(1362,1104) rotate(90)">D12 PWM</text><text class="p" text-anchor="end" transform="translate(1378,1104) rotate(90)">D13 PWM</text>
</g>
<g>
<rect class="b" x="800" y="822" width="18" height="36"/><rect class="h" x="800" y="848" width="18" height="10"/><text class="t" transform="translate(805,824) rotate(90)">D49-A</text>
<rect class="b" x="833" y="822" width="18" height="36"/><rect class="h" x="833" y="848" width="18" height="10"/><text class="t" transform="translate(838,824) rotate(90)">D47-A</text>
<rect class="b" x="917" y="822" width="18" height="36"/><rect class="h" x="917" y="848" width="18" height="10"/><text class="t" transform="translate(922,824) rotate(90)">D42-A</text>
<rect class="b" x="951" y="822" width="18" height="36"/><rect class="h" x="951" y="848" width="18" height="10"/><text class="t" transform="translate(956,824) rotate(90)">D40-A</text>
<rect class="b" x="984" y="822" width="18" height="36"/><rect class="h" x="984" y="848" width="18" height="10"/><text class="t" transform="translate(989,824) rotate(90)">D38-A</text>
<rect class="b" x="749" y="854" width="18" height="36"/><rect class="h" x="749" y="880" width="18" height="10"/><text class="t" transform="translate(754,856) rotate(90)">D52-A</text>
<rect class="b" x="783" y="854" width="18" height="36"/><rect class="h" x="783" y="880" width="18" height="10"/><text class="t" transform="translate(788,856) rotate(90)">D50-A</text>
<rect class="b" x="867" y="854" width="18" height="36"/><rect class="h" x="867" y="880" width="18" height="10"/><text class="t" transform="translate(872,856) rotate(90)">D45-A</text>
<rect class="b" x="900" y="854" width="18" height="36"/><rect class="h" x="900" y="880" width="18" height="10"/><text class="t" transform="translate(905,856) rotate(90)">D43-A</text>
<rect class="b" x="934" y="854" width="18" height="36"/><rect class="h" x="934" y="880" width="18" height="10"/><text class="t" transform="translate(939,856) rotate(90)">D41-A</text>
<rect class="b" x="967" y="854" width="18" height="36"/><rect class="h" x="967" y="880" width="18" height="10"/><text class="t" transform="translate(972,856) rotate(90)">D39-A</text>
<rect class="b" x="1153" y="806" width="18" height="34"/><rect class="h" x="1153" y="830" width="18" height="10"/><text class="t" transform="translate(1158,808) rotate(90)">A8-5V</text>
<rect class="b" x="1186" y="806" width="18" height="34"/><rect class="h" x="1186" y="830" width="18" height="10"/><text class="t" transform="translate(1191,808) rotate(90)">A6-5V</text>
<rect class="b" x="1220" y="806" width="18" height="34"/><rect class="h" x="1220" y="830" width="18" height="10"/><text class="t" transform="translate(1225,808) rotate(90)">A4-5V</text>
<rect class="b" x="1254" y="806" width="18" height="34"/><rect class="h" x="1254" y="830" width="18" height="10"/><text class="t" transform="translate(1259,808) rotate(90)">A2-5V</text>
<rect class="b" x="1288" y="806" width="18" height="34"/><rect class="h" x="1288" y="830" width="18" height="10"/><text class="t" transform="translate(1293,808) rotate(90)">A0-5V</text>
<rect class="b" x="1170" y="856" width="18" height="34"/><rect class="h" x="1170" y="880" width="18" height="10"/><text class="t" transform="translate(1175,858) rotate(90)">A7-5V</text>
<rect class="b" x="1203" y="856" width="18" height="34"/><rect class="h" x="1203" y="880" width="18" height="10"/><text class="t" transform="translate(1208,858) rotate(90)">A5-5V</text>
<rect class="b" x="1237" y="856" width="18" height="34"/><rect class="h" x="1237" y="880" width="18" height="10"/><text class="t" transform="translate(1242,858) rotate(90)">A3-5V</text>
<rect class="b" x="1271" y="856" width="18" height="34"/><rect class="h" x="1271" y="880" width="18" height="10"/><text class="t" transform="translate(1276,858) rotate(90)">A1-5V</text>
</g>
<g>
<rect class="b" x="732" y="1160" width="18" height="36"/><rect class="h" x="732" y="1160" width="18" height="10"/><text class="t" transform="translate(737,1162) rotate(90)">D36-A</text>
<rect class="b" x="867" y="1160" width="18" height="36"/><rect class="h" x="867" y="1160" width="18" height="10"/><text class="t" transform="translate(872,1162) rotate(90)">D28-A</text>
<rect class="b" x="900" y="1160" width="18" height="36"/><rect class="h" x="900" y="1160" width="18" height="10"/><text class="t" transform="translate(905,1162) rotate(90)">D26-A</text>
<rect class="b" x="934" y="1160" width="18" height="36"/><rect class="h" x="934" y="1160" width="18" height="10"/><text class="t" transform="translate(939,1162) rotate(90)">D24-A</text>
<rect class="b" x="967" y="1160" width="18" height="26"/><rect class="h" x="967" y="1160" width="18" height="10"/><text class="t" transform="translate(972,1162) rotate(90)">D22</text>
<rect class="b" x="1018" y="1160" width="18" height="26"/><rect class="h" x="1018" y="1160" width="18" height="10"/><text class="t" transform="translate(1023,1162) rotate(90)">D20</text>
<rect class="b" x="1052" y="1160" width="18" height="36"/><rect class="h" x="1052" y="1160" width="18" height="10"/><text class="t" transform="translate(1057,1162) rotate(90)">D18-A</text>
<rect class="b" x="1085" y="1160" width="18" height="36"/><rect class="h" x="1085" y="1160" width="18" height="10"/><text class="t" transform="translate(1090,1162) rotate(90)">D16-A</text>
<rect class="b" x="1119" y="1160" width="18" height="26"/><rect class="h" x="1119" y="1160" width="18" height="10"/><text class="t" transform="translate(1124,1162) rotate(90)">D14</text>
<rect class="b" x="1153" y="1160" width="18" height="20"/><rect class="h" x="1153" y="1160" width="18" height="10"/><text class="t" transform="translate(1158,1162) rotate(90)">D0</text>
<rect class="b" x="1186" y="1160" width="18" height="20"/><rect class="h" x="1186" y="1160" width="18" height="10"/><text class="t" transform="translate(1191,1162) rotate(90)">D3</text>
<rect class="b" x="1220" y="1160" width="18" height="20"/><rect class="h" x="1220" y="1160" width="18" height="10"/><text class="t" transform="translate(1225,1162) rotate(90)">D4</text>
<rect class="b" x="1254" y="1160" width="18" height="20"/><rect class="h" x="1254" y="1160" width="18" height="10"/><text class="t" transform="translate(1259,1162) rotate(90)">D6</text>
<rect class="b" x="1288" y="1160" width="18" height="20"/><rect class="h" x="1288" y="1160" width="18" height="10"/><text class="t" transform="translate(1293,1162) rotate(90)">D8</text>
<rect class="b" x="1322" y="1160" width="18" height="26"/><rect class="h" x="1322" y="1160" width="18" height="10"/><text class="t" transform="translate(1327,1162) rotate(90)">D10</text>
<rect class="b" x="1356" y="1160" width="18" height="26"/><rect class="h" x="1356" y="1160" width="18" height="10"/><text class="t" transform="translate(1361,1162) rotate(90)">D12</text>
<rect class="b" x="715" y="1194" width="18" height="36"/><rect class="h" x="715" y="1194" width="18" height="10"/><text class="t" transform="translate(720,1196) rotate(90)">D37-A</text>
<rect class="b" x="749" y="1194" width="18" height="36"/><rect class="h" x="749" y="1194" width="18" height="10"/><text class="t" transform="translate(754,1196) rotate(90)">D35-A</text>
<rect class="b" x="951" y="1194" width="18" height="26"/><rect class="h" x="951" y="1194" width="18" height="10"/><text class="t" transform="translate(956,1196) rotate(90)">D23</text>
<rect class="b" x="1001" y="1194" width="18" height="26"/><rect class="h" x="1001" y="1194" width="18" height="10"/><text class="t" transform="translate(1006,1196) rotate(90)">D21</text>
<rect class="b" x="1035" y="1194" width="18" height="36"/><rect class="h" x="1035" y="1194" width="18" height="10"/><text class="t" transform="translate(1040,1196) rotate(90)">D19-A</text>
<rect class="b" x="1069" y="1194" width="18" height="36"/><rect class="h" x="1069" y="1194" width="18" height="10"/><text class="t" transform="translate(1074,1196) rotate(90)">D17-A</text>
<rect class="b" x="1102" y="1194" width="18" height="26"/><rect class="h" x="1102" y="1194" width="18" height="10"/><text class="t" transform="translate(1107,1196) rotate(90)">D15</text>
<rect class="b" x="1170" y="1194" width="18" height="20"/><rect class="h" x="1170" y="1194" width="18" height="10"/><text class="t" transform="translate(1175,1196) rotate(90)">D1</text>
<rect class="b" x="1203" y="1194" width="18" height="20"/><rect class="h" x="1203" y="1194" width="18" height="10"/><text class="t" transform="translate(1208,1196) rotate(90)">D2</text>
<rect class="b" x="1237" y="1194" width="18" height="20"/><rect class="h" x="1237" y="1194" width="18" height="10"/><text class="t" transform="translate(1242,1196) rotate(90)">D5</text>
<rect class="b" x="1271" y="1194" width="18" height="20"/><rect class="h" x="1271" y="1194" width="18" height="10"/><text class="t" transform="translate(1276,1196) rotate(90)">D7</text>
<rect class="b" x="1305" y="1194" width="18" height="20"/><rect class="h" x="1305" y="1194" width="18" height="10"/><text class="t" transform="translate(1310,1196) rotate(90)">D9</text>
<rect class="b" x="1339" y="1194" width="18" height="26"/><rect class="h" x="1339" y="1194" width="18" height="10"/><text class="t" transform="translate(1344,1196) rotate(90)">D11</text>
</g>

<text x="1460" y="1505" style="font-size:30px;fill:#999;letter-spacing:1px">fritzing</text>
</svg>
</body></html>
